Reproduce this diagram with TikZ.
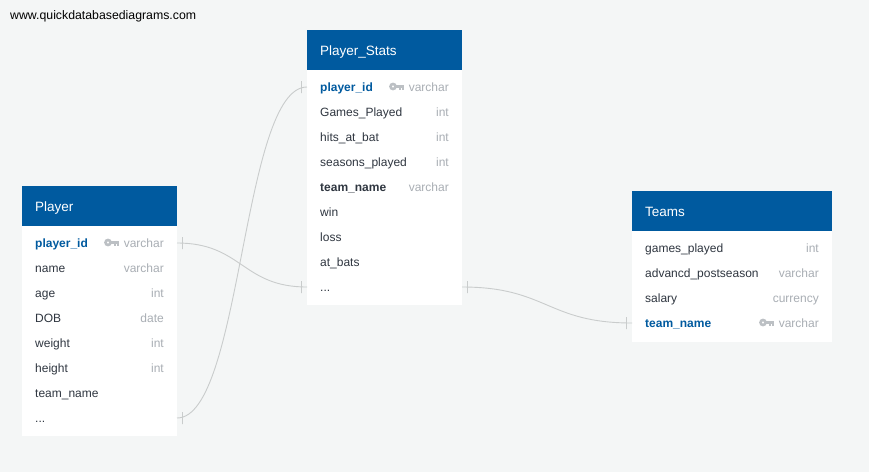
\documentclass[tikz,border=0pt]{standalone}
\usepackage{xcolor}
\usepackage{fontspec}
\setmainfont{Liberation Sans}
\usetikzlibrary{calc}

\definecolor{pagegray}{HTML}{F4F6F6}
\definecolor{headblue}{HTML}{005A9F}
\definecolor{fieldtext}{HTML}{2F3640}
\definecolor{typetext}{HTML}{A9AEB4}
\definecolor{keygray}{HTML}{BCC0C4}
\definecolor{linkgray}{HTML}{C9CCCC}

\begin{document}
\begin{tikzpicture}[
        x = 1pt, y = -1pt,
        font = \fontsize{12}{14}\selectfont,
        tablebody/.style = {fill=white, anchor=north west, inner sep=0pt},
        tablehead/.style = {fill=headblue, text=white, anchor=north west, align=left, inner ysep=0pt, inner xsep=13pt, minimum height=40pt, text height=12pt, text depth=2pt, font=\fontsize{13.5}{15}\selectfont},
        field/.style = {anchor=west, inner sep=0pt, text=fieldtext, text height=10pt, text depth=2pt},
        keyfield/.style = {field, text=headblue, font=\fontsize{12}{14}\selectfont\bfseries},
        boldfield/.style = {field, font=\fontsize{12}{14}\selectfont\bfseries},
        sqltype/.style = {anchor=east, inner sep=0pt, text=typetext, text height=10pt, text depth=2pt},
        keyicon/.style = {anchor=center, inner sep=0pt, minimum width=15pt, minimum height=8pt, path picture={
            \fill[keygray, even odd rule] ($(path picture bounding box.center)+(-3.5,0)$) circle (3.9pt) circle (1.4pt);
            \fill[keygray] ($(path picture bounding box.center)+(-0.5,-1.8)$) rectangle ++(8,3.2);
            \fill[keygray] ($(path picture bounding box.center)+(2.6,0)$) rectangle ++(2,3);
            \fill[keygray] ($(path picture bounding box.center)+(5.3,0)$) rectangle ++(2,3);
        }},
        link/.style = {draw=linkgray, line width=0.9pt},
        onetick/.style = {draw=linkgray, line width=0.9pt, inner sep=0pt, minimum width=0pt, minimum height=12pt}
    ]
    
    \useasboundingbox (0,0) rectangle (869,472);
    \fill[pagegray] (0,0) rectangle (869,472);
    
    \node[anchor=west, inner sep=0pt, font=\fontsize{12.3}{14}\selectfont] (website) at (10,16) {www.quickdatabasediagrams.com};
    
    % Player table
    \node[tablebody, minimum width=155pt, minimum height=250pt] (player) at (22,186) {};
    \node[tablehead, text width=129pt] (playerhead) at (22,186) {Player};
    \node[keyfield] (playerid) at (35,243) {player\_id};
    \node[keyicon] (playerkey) at (111.5,242.5) {};
    \node[sqltype] (playeridtype) at (164,243) {varchar};
    \node[field] (playername) at (35,268) {name};
    \node[sqltype] (playernametype) at (164,268) {varchar};
    \node[field] (playerage) at (35,293) {age};
    \node[sqltype] (playeragetype) at (164,293) {int};
    \node[field] (playerdob) at (35,318) {DOB};
    \node[sqltype] (playerdobtype) at (164,318) {date};
    \node[field] (playerweight) at (35,343) {weight};
    \node[sqltype] (playerweighttype) at (164,343) {int};
    \node[field] (playerheight) at (35,368) {height};
    \node[sqltype] (playerheighttype) at (164,368) {int};
    \node[field] (playerteam) at (35,393) {team\_name};
    \node[field] (playermore) at (35,418) {...};
    
    % Player_Stats table
    \node[tablebody, minimum width=155pt, minimum height=275pt] (stats) at (307,30) {};
    \node[tablehead, text width=129pt] (statshead) at (307,30) {Player\_Stats};
    \node[keyfield] (statsid) at (320,87) {player\_id};
    \node[keyicon] (statskey) at (396.5,86.5) {};
    \node[sqltype] (statsidtype) at (449,87) {varchar};
    \node[field] (statsgames) at (320,112) {Games\_Played};
    \node[sqltype] (statsgamestype) at (449,112) {int};
    \node[field] (statshits) at (320,137) {hits\_at\_bat};
    \node[sqltype] (statshitstype) at (449,137) {int};
    \node[field] (statsseasons) at (320,162) {seasons\_played};
    \node[sqltype] (statsseasonstype) at (449,162) {int};
    \node[boldfield] (statsteam) at (320,187) {team\_name};
    \node[sqltype] (statsteamtype) at (449,187) {varchar};
    \node[field] (statswin) at (320,212) {win};
    \node[field] (statsloss) at (320,237) {loss};
    \node[field] (statsatbats) at (320,262) {at\_bats};
    \node[field] (statsmore) at (320,287) {...};
    
    % Teams table
    \node[tablebody, minimum width=200pt, minimum height=151pt] (teams) at (632,191) {};
    \node[tablehead, text width=174pt] (teamshead) at (632,191) {Teams};
    \node[field] (teamsgames) at (645,248) {games\_played};
    \node[sqltype] (teamsgamestype) at (819,248) {int};
    \node[field] (teamspost) at (645,273) {advancd\_postseason};
    \node[sqltype] (teamsposttype) at (819,273) {varchar};
    \node[field] (teamssalary) at (645,298) {salary};
    \node[sqltype] (teamssalarytype) at (819,298) {currency};
    \node[keyfield] (teamsname) at (645,323) {team\_name};
    \node[keyicon] (teamskey) at (766.5,322.5) {};
    \node[sqltype] (teamsnametype) at (819,323) {varchar};
    
    % Ends of the links on the table edges
    \coordinate (playeridport) at (177,243);
    \coordinate (playermoreport) at (177,418);
    \coordinate (statsidport) at (307,87);
    \coordinate (statsmoreleft) at (307,287);
    \coordinate (statsmoreright) at (462,287);
    \coordinate (teamsnameport) at (632,323);
    
    % Links between tables
    \draw[link] (playeridport) .. controls +(65,0) and +(-65,0) .. (statsmoreleft);
    \draw[link] (playermoreport) .. controls +(65,0) and +(-65,0) .. (statsidport);
    \draw[link] (statsmoreright) .. controls +(85,0) and +(-85,0) .. (teamsnameport);
    
    % One-side ticks
    \node[onetick] (tickplayerid) at ($(playeridport)+(5.5,0)$) {};
    \node[onetick] (tickplayermore) at ($(playermoreport)+(5.5,0)$) {};
    \node[onetick] (tickstatsid) at ($(statsidport)+(-5.5,0)$) {};
    \node[onetick] (tickstatsleft) at ($(statsmoreleft)+(-5.5,0)$) {};
    \node[onetick] (tickstatsright) at ($(statsmoreright)+(5.5,0)$) {};
    \node[onetick] (tickteams) at ($(teamsnameport)+(-5.5,0)$) {};
    
    \end{tikzpicture}
\end{document}
